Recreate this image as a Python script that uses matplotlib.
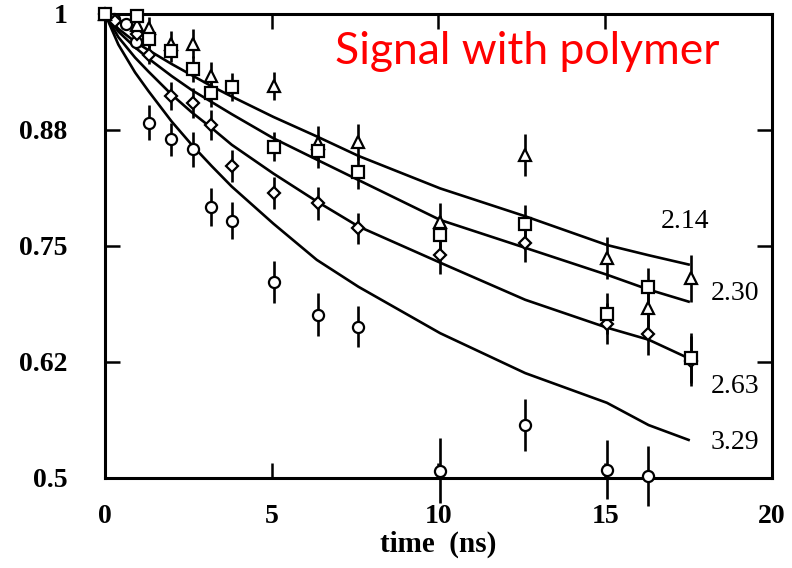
import matplotlib.pyplot as plt
from matplotlib.ticker import FixedLocator

# fitted curves (one value per time point)
t_fit = [0, 0.4, 0.9, 1.3, 2.0, 2.6, 3.2, 3.8, 5.05, 6.35, 7.6, 10.05, 12.6, 15.05, 16.3, 17.5]
fit_214 = [1.0, 0.984, 0.970, 0.961, 0.946, 0.934, 0.922, 0.911, 0.889, 0.868, 0.847, 0.812, 0.782, 0.751, 0.740, 0.730]
fit_230 = [1.0, 0.981, 0.964, 0.952, 0.933, 0.918, 0.905, 0.892, 0.866, 0.843, 0.821, 0.778, 0.748, 0.719, 0.703, 0.690]
fit_263 = [1.0, 0.975, 0.953, 0.938, 0.913, 0.894, 0.877, 0.859, 0.828, 0.798, 0.771, 0.732, 0.692, 0.662, 0.649, 0.629]
fit_329 = [1.0, 0.967, 0.937, 0.917, 0.884, 0.859, 0.836, 0.814, 0.774, 0.735, 0.706, 0.656, 0.613, 0.581, 0.557, 0.541]
fit_labels = ["2.14", "2.30", "2.63", "3.29"]

# measured points
t_tri = [0, 0.95, 1.33, 1.97, 2.63, 3.17, 5.07, 6.38, 7.58, 10.04, 12.59, 15.06, 16.27, 17.56]
y_tri = [1.0, 0.988, 0.985, 0.968, 0.968, 0.933, 0.922, 0.861, 0.862, 0.776, 0.848, 0.737, 0.683, 0.715]
e_tri = [0, 0.008, 0.012, 0.014, 0.016, 0.015, 0.015, 0.018, 0.019, 0.02, 0.023, 0.023, 0.02, 0.025]

t_sq = [0, 0.95, 1.33, 1.97, 2.63, 3.17, 3.82, 5.07, 6.38, 7.58, 10.04, 12.59, 15.06, 16.27, 17.56]
y_sq = [1.0, 0.998, 0.973, 0.960, 0.941, 0.915, 0.921, 0.857, 0.852, 0.830, 0.762, 0.774, 0.677, 0.706, 0.629]
e_sq = [0, 0.005, 0.01, 0.012, 0.014, 0.015, 0.015, 0.016, 0.018, 0.019, 0.02, 0.02, 0.022, 0.02, 0.027]

t_dia = [0, 0.3, 0.95, 1.33, 1.97, 2.63, 3.17, 3.82, 5.07, 6.38, 7.58, 10.04, 12.59, 15.06, 16.27, 17.56]
y_dia = [1.0, 0.992, 0.978, 0.956, 0.912, 0.904, 0.880, 0.836, 0.807, 0.796, 0.769, 0.740, 0.753, 0.666, 0.655, 0.626]
e_dia = [0, 0.004, 0.008, 0.01, 0.015, 0.016, 0.016, 0.017, 0.017, 0.018, 0.017, 0.02, 0.02, 0.022, 0.022, 0.027]

t_circ = [0, 0.27, 0.63, 0.93, 1.33, 1.97, 2.63, 3.17, 3.82, 5.07, 6.38, 7.58, 10.04, 12.59, 15.06, 16.27]
y_circ = [1.0, 0.994, 0.989, 0.970, 0.883, 0.865, 0.854, 0.792, 0.777, 0.711, 0.676, 0.663, 0.508, 0.557, 0.509, 0.502]
e_circ = [0, 0.004, 0.006, 0.008, 0.019, 0.018, 0.019, 0.02, 0.02, 0.023, 0.023, 0.022, 0.035, 0.028, 0.032, 0.032]

yticks = [0.5, 0.625, 0.75, 0.875, 1.0]
ytick_labels = ["0.5", "0.62", "0.75", "0.88", "1"]
xticks = [0, 5, 10, 15, 20]

fig = plt.figure(figsize=(7.92, 5.68), dpi=100)
ax = fig.add_axes([0.1326, 0.1585, 0.8421, 0.817])

for f in [fit_214, fit_230, fit_263, fit_329]:
    ax.plot(t_fit, f, color="black", lw=1.9, zorder=2)

series = [
    (t_circ, y_circ, e_circ, "o", 8),
    (t_dia, y_dia, e_dia, "D", 6.3),
    (t_tri, y_tri, e_tri, "^", 8.5),
    (t_sq, y_sq, e_sq, "s", 8.5),
]
for t, y, e, m, ms in series:
    ax.errorbar(t, y, yerr=e, fmt=m, ms=ms, mfc="white", mec="black", mew=1.6,
                ecolor="black", elinewidth=1.9, capsize=0, clip_on=False, zorder=3)

# curve labels
label_pos = [(17.4, 0.776), (18.9, 0.699), (18.9, 0.599), (18.9, 0.538)]
for (x, y), s in zip(label_pos, fit_labels):
    ax.text(x, y, s, fontsize=20, family="Liberation Serif", ha="center", va="center")

ax.text(0.345, 0.918, "Signal with polymer", transform=ax.transAxes, color="red",
        fontsize=32, family="Lato", ha="left", va="center")

ax.set_xlim(0, 20)
ax.set_ylim(0.5, 1.0)
ax.xaxis.set_major_locator(FixedLocator(xticks))
ax.yaxis.set_major_locator(FixedLocator(yticks))
ax.set_yticklabels(ytick_labels)
ax.set_xticklabels([str(v) for v in xticks])
ax.tick_params(direction="in", length=11, width=1.8, top=True, right=True,
               labelsize=20)
ax.tick_params(axis="y", pad=27)
ax.tick_params(axis="x", pad=19)
for lbl in ax.get_xticklabels() + ax.get_yticklabels():
    lbl.set_family("Liberation Serif")
    lbl.set_fontweight("bold")
for sp in ax.spines.values():
    sp.set_linewidth(2.2)

ax.set_xlabel("time  (ns)", fontsize=21, family="Liberation Serif", fontweight="bold", labelpad=1)

fig.savefig("out.png", dpi=100)
